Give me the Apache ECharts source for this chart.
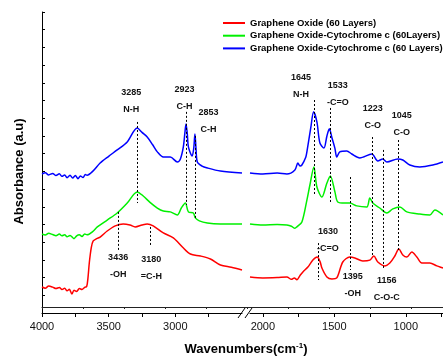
<!DOCTYPE html>
<html>
<head>
<meta charset="utf-8">
<script src="https://cdn.jsdelivr.net/npm/echarts@6/dist/echarts.min.js"></script>
<style>
  html, body { margin: 0; padding: 0; background: #fff; }
  #chart { width: 443px; height: 361px; }
</style>
</head>
<body>
<div id="chart"></div>
<script>
// spectra, [wavenumber, absorbance a.u.], split at the axis break
const redLeft = [[4000,0.147],[3975,0.140],[3950,0.152],[3920,0.146],[3895,0.138],[3870,0.144],[3850,0.133],[3830,0.140],[3812,0.125],[3795,0.134],[3776,0.107],[3760,0.128],[3740,0.122],[3720,0.138],[3700,0.133],[3680,0.145],[3665,0.150],[3655,0.200],[3645,0.285],[3630,0.370],[3616,0.407],[3590,0.420],[3564,0.429],[3511,0.463],[3451,0.492],[3391,0.503],[3340,0.497],[3301,0.486],[3250,0.497],[3211,0.503],[3166,0.492],[3090,0.452],[3015,0.424],[2947,0.373],[2887,0.333],[2812,0.322],[2737,0.305],[2662,0.271],[2580,0.258],[2500,0.243]];
const redRight = [[2090,0.203],[2000,0.198],[1900,0.200],[1832,0.203],[1800,0.190],[1780,0.198],[1762,0.188],[1740,0.212],[1720,0.232],[1685,0.260],[1650,0.299],[1620,0.316],[1600,0.290],[1587,0.254],[1552,0.203],[1517,0.192],[1483,0.198],[1441,0.288],[1392,0.316],[1357,0.311],[1301,0.294],[1252,0.299],[1224,0.322],[1196,0.288],[1147,0.266],[1112,0.282],[1077,0.322],[1049,0.362],[1021,0.328],[993,0.316],[958,0.345],[923,0.316],[888,0.282],[832,0.282],[783,0.266],[740,0.254]];
const greenLeft = [[4000,0.446],[3975,0.440],[3950,0.450],[3920,0.443],[3895,0.437],[3870,0.446],[3850,0.436],[3830,0.442],[3812,0.430],[3790,0.438],[3760,0.420],[3740,0.436],[3720,0.442],[3700,0.432],[3680,0.446],[3662,0.442],[3620,0.460],[3585,0.486],[3511,0.525],[3436,0.565],[3361,0.621],[3286,0.684],[3241,0.661],[3190,0.625],[3135,0.593],[3090,0.576],[3038,0.571],[2985,0.554],[2955,0.593],[2925,0.621],[2902,0.571],[2865,0.565],[2850,0.537],[2820,0.520],[2760,0.508],[2662,0.503],[2500,0.503]];
const greenRight = [[2090,0.503],[2000,0.497],[1900,0.500],[1832,0.497],[1800,0.490],[1776,0.478],[1760,0.488],[1727,0.514],[1692,0.638],[1671,0.723],[1643,0.825],[1622,0.712],[1587,0.655],[1552,0.734],[1528,0.774],[1496,0.684],[1476,0.627],[1427,0.621],[1392,0.621],[1343,0.605],[1273,0.599],[1252,0.650],[1231,0.621],[1182,0.593],[1133,0.565],[1091,0.588],[1042,0.599],[993,0.571],[902,0.559],[832,0.554],[797,0.582],[740,0.554]];
const blueLeft = [[4000,0.785],[3975,0.792],[3950,0.780],[3920,0.788],[3895,0.776],[3870,0.786],[3850,0.772],[3830,0.780],[3812,0.764],[3790,0.778],[3770,0.762],[3750,0.776],[3730,0.758],[3712,0.774],[3692,0.765],[3675,0.782],[3662,0.778],[3620,0.800],[3564,0.847],[3500,0.885],[3436,0.921],[3361,0.966],[3286,1.045],[3250,1.020],[3211,0.994],[3170,0.950],[3135,0.910],[3090,0.881],[3038,0.881],[2985,0.853],[2962,0.870],[2940,0.938],[2928,1.020],[2920,1.068],[2910,1.010],[2902,0.938],[2874,0.887],[2862,0.930],[2853,1.011],[2845,0.930],[2835,0.853],[2800,0.830],[2759,0.819],[2662,0.802],[2500,0.791]];
const blueRight = [[2090,0.791],[2000,0.785],[1900,0.790],[1832,0.785],[1776,0.808],[1755,0.847],[1740,0.830],[1727,0.836],[1700,0.880],[1692,0.910],[1664,1.051],[1645,1.136],[1622,1.079],[1601,0.960],[1573,0.932],[1552,1.000],[1535,1.040],[1517,0.990],[1496,0.930],[1483,0.881],[1462,0.910],[1413,0.915],[1378,0.898],[1322,0.876],[1238,0.898],[1196,0.859],[1161,0.870],[1133,0.853],[1056,0.870],[1021,0.864],[972,0.836],[902,0.825],[811,0.836],[740,0.853]];

const seriesNames = ['Graphene Oxide (60 Layers)', 'Graphene Oxide-Cytochrome c (60Layers)', 'Graphene Oxide-Cytochrome c (60 Layers)'];
const seriesColors = ['#ff0000', '#00f000', '#0000ff'];

const ticksLeft = [4000, 3750, 3500, 3250, 3000, 2750];
const labelsLeft = [4000, 3500, 3000];
const ticksRight = [2000, 1750, 1500, 1250, 1000, 750];
const labelsRight = [2000, 1500, 1000];

// peak markers: [wavenumber, top, bottom]
const peakLinesLeft = [[3288,1.079,0.621],[2920,1.136,0.610],[2850,1.000,0.537],[3431,0.571,0.356],[3188,0.486,0.373]];
const peakLinesRight = [[1643,1.203,0.667],[1527,1.158,0.621],[1236,0.994,0.322],[1056,0.977,0.356],[1161,0.921,0.254],[1392,0.768,0.243],[1614,0.395,0.186]];
// peak texts: [number, group, wavenumber, absorbance] (centre of text)
const peakTextLeft = [['3285','N-H',3331,1.195],['2923','C-H',2932,1.215],['2853','C-H',2752,1.082],['3436','-OH',3429,0.263],['3180','=C-H',3180,0.254]];
const peakTextRight = [['1645','N-H',1734,1.280],['1533','-C=O',1476,1.234],['1223','C-O',1231,1.105],['1045','C-O',1028,1.065],['1630','-C=O',1545,0.412],['1395','-OH',1371,0.158],['1156','C-O-C',1133,0.136]];

const FONT = 'Liberation Sans, Arial, sans-serif';

function markLines(list) {
    return {
        silent: true, symbol: ['none', 'none'],
        lineStyle: {color: '#000', width: 1, type: [2, 2]},
        label: {show: false},
        data: list.map(p => [{coord: [p[0], p[1]]}, {coord: [p[0], p[2]]}])
    }
}

function markTexts(list) {
    return {
        silent: true, symbol: 'circle', symbolSize: 0,
        label: {show: true, position: 'inside', color: '#111', fontSize: 9, fontWeight: 'bold', fontFamily: FONT, lineHeight: 17},
        data: list.map(p => ({coord: [p[2], p[3]], label: {formatter: p[0] + '\n' + p[1]}}))
    }
}

const series = [];
const segs = [[redLeft, redRight], [greenLeft, greenRight], [blueLeft, blueRight]];
segs.forEach((pair, i) => {
    pair.forEach((data, j) => {
        series.push({
            name: seriesNames[i], type: 'line', data: data,
            xAxisIndex: j, yAxisIndex: j,
            symbol: 'none', smooth: 0.3,
            lineStyle: {color: seriesColors[i], width: 1.5},
            itemStyle: {color: seriesColors[i]},
            z: 3
        });
    });
});
series[0].markLine = markLines(peakLinesLeft);
series[0].markPoint = markTexts(peakTextLeft);
series[1].markLine = markLines(peakLinesRight);
series[1].markPoint = markTexts(peakTextRight);

const axisLabel = {fontSize: 11, color: '#111', fontFamily: FONT, margin: 8, formatter: v => String(v)};

const option = {
    animation: false,
    grid: [
        {left: 42, top: 12, width: 200, bottom: 48},
        {left: 250, top: 12, right: 0, bottom: 48},
        {left: 42, top: 12, right: 0, bottom: 48}
    ],
    legend: {
        orient: 'vertical', left: 223, top: 18, padding: 0,
        icon: 'path://M0,0H22V2H0Z',
        itemWidth: 22, itemHeight: 12, itemGap: 2.7,
        textStyle: {fontSize: 9.5, fontWeight: 'bold', color: '#000', fontFamily: FONT},
        data: seriesNames
    },
    xAxis: [
        {
            type: 'value', gridIndex: 0, min: 2500, max: 4000, inverse: true,
            axisLine: {lineStyle: {color: '#000'}},
            axisTick: {length: 4, customValues: ticksLeft, lineStyle: {color: '#000'}},
            axisLabel: Object.assign({customValues: labelsLeft}, axisLabel),
            splitLine: {show: false}
        },
        {
            type: 'value', gridIndex: 1, min: 740, max: 2090, inverse: true,
            axisLine: {lineStyle: {color: '#000'}},
            axisTick: {length: 4, customValues: ticksRight, lineStyle: {color: '#000'}},
            axisLabel: Object.assign({customValues: labelsRight}, axisLabel),
            splitLine: {show: false}
        },
        {
            type: 'value', gridIndex: 2, position: 'top', min: 0, max: 9.78, interval: 1,
            axisLine: {lineStyle: {color: '#222'}},
            axisTick: {inside: true, length: 2, lineStyle: {color: '#222'}},
            axisLabel: {show: false}, splitLine: {show: false}
        },
        {
            type: 'value', gridIndex: 2, position: 'bottom', min: 0, max: 1,
            axisLine: {show: false}, axisTick: {show: false}, axisLabel: {show: false}, splitLine: {show: false},
            name: 'Wavenumbers(cm{sup|-1})', nameLocation: 'middle', nameGap: 35,
            nameTextStyle: {
                fontSize: 13, fontWeight: 'bold', color: '#000', fontFamily: FONT, padding: [0, 0, 0, 7],
                rich: {sup: {fontSize: 8, fontWeight: 'bold', color: '#000', fontFamily: FONT, padding: [0, 0, 7, 0]}}
            }
        }
    ],
    yAxis: [
        {
            type: 'value', gridIndex: 0, min: 0, max: 1.7, interval: 0.1,
            axisLine: {show: true, lineStyle: {color: '#000'}},
            axisTick: {show: true, inside: true, length: 3, lineStyle: {color: '#000'}},
            axisLabel: {show: false}, splitLine: {show: false},
            name: 'Absorbance (a.u)', nameLocation: 'middle', nameGap: 16,
            nameTextStyle: {fontSize: 13, fontWeight: 'bold', color: '#000', fontFamily: FONT, padding: [0, 18, 0, 0]}
        },
        {
            type: 'value', gridIndex: 1, min: 0, max: 1.7, interval: 0.1,
            axisLine: {show: false}, axisTick: {show: false}, axisLabel: {show: false}, splitLine: {show: false}
        },
        {
            type: 'value', gridIndex: 2, min: 0, max: 1,
            axisLine: {show: false}, axisTick: {show: false}, axisLabel: {show: false}, splitLine: {show: false}
        }
    ],
    graphic: [
        {type: 'line', shape: {x1: 238, y1: 318, x2: 245, y2: 308}, style: {stroke: '#000', lineWidth: 1}},
        {type: 'line', shape: {x1: 245, y1: 318, x2: 252, y2: 308}, style: {stroke: '#000', lineWidth: 1}}
    ],
    series: series
};

const chart = echarts.init(document.getElementById('chart'), null, {renderer: 'canvas'});
chart.setOption(option);
</script>
</body>
</html>
